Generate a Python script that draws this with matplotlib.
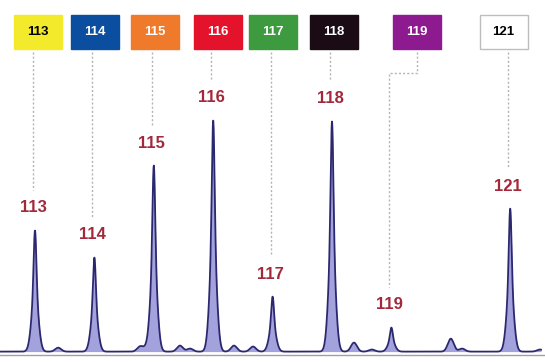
import numpy as np
import matplotlib
matplotlib.use("Agg")
import matplotlib.pyplot as plt
from matplotlib.patches import Rectangle

# -------- data ---------------------------------
reporter_mz = [113, 114, 115, 116, 117, 118, 119, 121]
reporter_labels = ["113", "114", "115", "116", "117", "118", "119", "121"]
reporter_intensity = [52.4, 40.7, 80.5, 100.0, 23.8, 99.6, 10.4, 61.9]

# small baseline bumps between the reporter ions
minor_mz = [113.39, 114.77, 114.87, 115.44, 115.61, 116.35, 116.67,
            118.37, 118.67, 120.0, 120.19, 121.5]
minor_intensity = [1.7, 2.2, 1.3, 2.6, 1.3, 2.6, 2.2, 3.9, 0.9, 5.6, 1.3, 0.9]

box_colors = ["#f4ea2c", "#0b4d9e", "#ef7a2c", "#e5122c", "#3d9a3f",
              "#1a0b14", "#8d1b8f", "#ffffff"]
box_text_colors = ["black", "white", "white", "white", "white",
                   "white", "white", "black"]
# ------------------------------------------------

# layout: pixel geometry of the 545x362 picture
W, H = 545, 362
PX_PER_MZ = 59.4
X0_PX = 35          # pixel of m/z 113
BASE_PX = 353       # baseline pixel
PX_PER_UNIT = 2.31  # pixels per intensity unit
BOX_CENTER_PX = [37.5, 94.5, 155, 217.5, 273, 334, 416.5, 503.5]
BOX_W, BOX_TOP, BOX_BOTTOM = 48, 15, 49


def px_x(px):
    return 113 + (px - X0_PX) / PX_PER_MZ


def px_y(py):
    return (BASE_PX - py) / PX_PER_UNIT


fig = plt.figure(figsize=(W / 100, H / 100), dpi=100)
ax = fig.add_axes([0, 0, 1, 1])
ax.set_xlim(px_x(0), px_x(W))
ax.set_ylim(px_y(H), px_y(0))
ax.axis("off")

# spectrum trace built from the peak list
mz = np.linspace(px_x(0), px_x(W - 4), 4000)
trace = np.zeros_like(mz)
for m, h in zip(reporter_mz, reporter_intensity):
    trace += h * (0.5 * np.exp(-0.5 * ((mz - m) / 0.022) ** 2)
                  + 0.5 * np.exp(-0.5 * ((mz - m) / 0.055) ** 2))
for m, h in zip(minor_mz, minor_intensity):
    trace += h * np.exp(-0.5 * ((mz - m) / 0.05) ** 2)
trace += 0.6

ax.axhline(px_y(BASE_PX + 2), color="#a0a0a0", lw=1.0, zorder=1)
ax.fill_between(mz, 0.6, trace, color="#a4a2dc", lw=0, zorder=2)
ax.plot(mz, trace, color="#2c2870", lw=1.3, zorder=3)

# labels above peaks
label_off = 24
for i, (m, h, lab) in enumerate(zip(reporter_mz, reporter_intensity, reporter_labels)):
    lx = m - 2 / PX_PER_MZ
    ly = h + label_off / PX_PER_UNIT
    ax.text(lx, ly, lab, ha="center", va="center", color="#a3283c",
            fontsize=12, fontweight="bold", family="Liberation Sans", zorder=4)

    # colored tag box
    cx = px_x(BOX_CENTER_PX[i])
    bw = BOX_W / PX_PER_MZ
    edge = "#bdbdbd" if box_colors[i] == "#ffffff" else box_colors[i]
    ax.add_patch(Rectangle((cx - bw / 2, px_y(BOX_BOTTOM)), bw,
                           px_y(BOX_TOP) - px_y(BOX_BOTTOM),
                           facecolor=box_colors[i], edgecolor=edge, lw=1.0, zorder=4))
    ax.text(cx, px_y((BOX_TOP + BOX_BOTTOM) / 2), lab, ha="center", va="center",
            color=box_text_colors[i], fontsize=9.5, fontweight="bold",
            family="Liberation Sans", zorder=5)

    # dashed leader from box to label
    end_y = ly + 18 / PX_PER_UNIT
    top_y = px_y(BOX_BOTTOM + 3)
    style = dict(color="#b4b4b4", lw=1.0, ls=(0, (1.5, 1.5)), zorder=1)
    if abs(cx - lx) * PX_PER_MZ > 8:
        mid_y = px_y(73)
        ax.plot([cx, cx, lx, lx], [top_y, mid_y, mid_y, end_y], **style)
    else:
        ax.plot([lx, lx], [top_y, end_y], **style)

fig.savefig("out.png", dpi=100)
